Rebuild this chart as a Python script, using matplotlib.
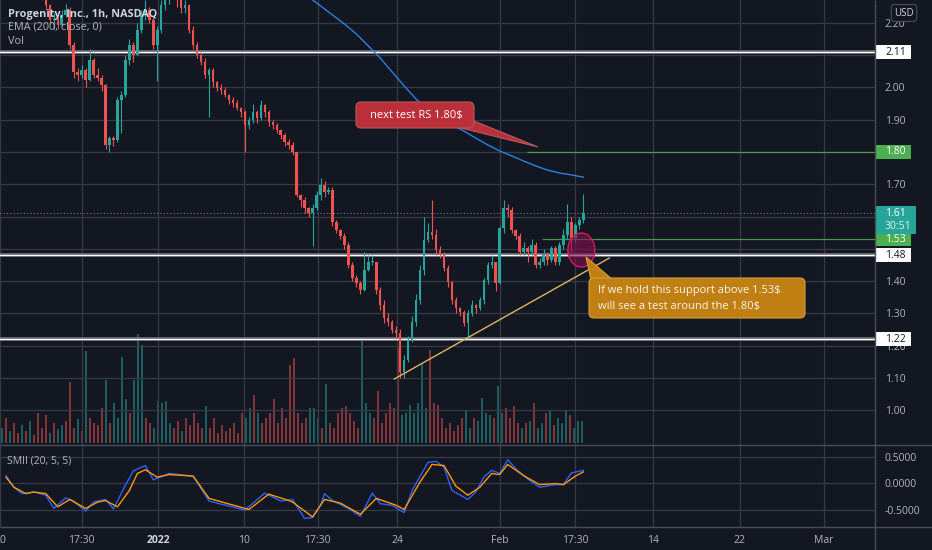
import numpy as np
import matplotlib
matplotlib.use('Agg')
import matplotlib.pyplot as plt
import matplotlib.patches as patches
import matplotlib.transforms as mtransforms
from matplotlib.ticker import FormatStrFormatter

plt.rcParams['font.family'] = ['Open Sans', 'DejaVu Sans']

W, H = 932, 550
BG = '#131722'
GRID = '#363a45'
SEP = '#4a4e59'
TXT = '#b2b5be'
UP = '#26a69a'
DOWN = '#ef5350'

# ---- data (1h candles) ----
first_open = 2.35
closes = [2.36, 2.34, 2.38, 2.35, 2.33, 2.36, 2.32, 2.34, 2.31, 2.30,
          2.256, 2.209, 2.209, 2.194, 2.225, 2.240, 2.132, 2.048, 2.039, 2.054,
          2.023, 2.085, 2.039, 2.030, 2.008, 1.822, 1.843, 1.837, 1.961, 1.977,
          2.085, 2.132, 2.101, 2.178, 2.225, 2.240, 2.209, 2.132, 2.178, 2.256,
          2.271, 2.29, 2.30, 2.28, 2.246, 2.256, 2.178, 2.132, 2.101, 2.079,
          2.039, 2.054, 2.017, 1.998, 1.992, 1.977, 1.961, 1.952, 1.936, 1.924,
          1.884, 1.899, 1.924, 1.905, 1.946, 1.924, 1.893, 1.884, 1.868, 1.853,
          1.831, 1.822, 1.800, 1.667, 1.651, 1.626, 1.611, 1.626, 1.667, 1.698,
          1.676, 1.682, 1.583, 1.558, 1.540, 1.512, 1.450, 1.409, 1.394, 1.372,
          1.434, 1.459, 1.459, 1.372, 1.326, 1.285, 1.273, 1.248, 1.239, 1.118,
          1.155, 1.217, 1.273, 1.341, 1.434, 1.527, 1.552, 1.543, 1.496, 1.481,
          1.440, 1.397, 1.341, 1.316, 1.304, 1.270, 1.300, 1.326, 1.316, 1.341,
          1.403, 1.450, 1.459, 1.394, 1.564, 1.626, 1.620, 1.558, 1.540, 1.490,
          1.502, 1.490, 1.512, 1.450, 1.459, 1.481, 1.465, 1.502, 1.459, 1.512,
          1.543, 1.583, 1.533, 1.574, 1.589, 1.610]
highs = [2.38, 2.37, 2.40, 2.39, 2.36, 2.37, 2.37, 2.35, 2.35, 2.32,
         2.31, 2.26, 2.23, 2.22, 2.24, 2.26, 2.25, 2.14, 2.06, 2.07,
         2.06, 2.12, 2.09, 2.06, 2.04, 2.01, 1.85, 1.85, 1.97, 1.99,
         2.10, 2.15, 2.14, 2.20, 2.24, 2.27, 2.25, 2.22, 2.19, 2.27,
         2.29, 2.31, 2.32, 2.31, 2.29, 2.27, 2.26, 2.19, 2.14, 2.11,
         2.09, 2.06, 2.06, 2.02, 2.01, 2.00, 1.98, 1.97, 1.96, 1.94,
         1.93, 1.91, 1.95, 1.93, 1.96, 1.95, 1.93, 1.90, 1.89, 1.87,
         1.86, 1.84, 1.83, 1.80, 1.67, 1.66, 1.63, 1.64, 1.68, 1.72,
         1.71, 1.69, 1.69, 1.59, 1.56, 1.55, 1.52, 1.46, 1.42, 1.40,
         1.49, 1.48, 1.48, 1.46, 1.38, 1.34, 1.30, 1.28, 1.26, 1.25,
         1.17, 1.23, 1.29, 1.36, 1.45, 1.60, 1.58, 1.65, 1.56, 1.51,
         1.49, 1.45, 1.40, 1.35, 1.32, 1.31, 1.31, 1.34, 1.33, 1.35,
         1.41, 1.46, 1.48, 1.46, 1.57, 1.65, 1.64, 1.63, 1.56, 1.55,
         1.52, 1.51, 1.53, 1.52, 1.47, 1.50, 1.49, 1.51, 1.51, 1.52,
         1.56, 1.64, 1.60, 1.58, 1.60, 1.67]
lows = [2.34, 2.33, 2.33, 2.34, 2.32, 2.32, 2.31, 2.31, 2.30, 2.28,
        2.24, 2.20, 2.18, 2.18, 2.19, 2.22, 2.12, 2.03, 2.02, 2.03,
        2.00, 2.02, 2.03, 2.02, 1.99, 1.81, 1.80, 1.82, 1.83, 1.86,
        1.97, 2.07, 2.08, 2.10, 2.17, 2.21, 2.20, 2.12, 2.02, 2.17,
        2.24, 2.26, 2.28, 2.25, 2.23, 2.23, 2.17, 2.12, 2.09, 2.07,
        2.03, 1.91, 2.00, 1.99, 1.98, 1.97, 1.95, 1.94, 1.93, 1.91,
        1.80, 1.87, 1.89, 1.89, 1.90, 1.91, 1.88, 1.87, 1.86, 1.84,
        1.82, 1.81, 1.79, 1.66, 1.63, 1.61, 1.60, 1.51, 1.62, 1.65,
        1.66, 1.67, 1.57, 1.55, 1.53, 1.50, 1.44, 1.40, 1.38, 1.36,
        1.37, 1.43, 1.45, 1.36, 1.31, 1.27, 1.26, 1.24, 1.22, 1.10,
        1.10, 1.15, 1.21, 1.26, 1.33, 1.42, 1.52, 1.53, 1.48, 1.47,
        1.43, 1.38, 1.33, 1.30, 1.29, 1.26, 1.22, 1.29, 1.30, 1.31,
        1.33, 1.39, 1.44, 1.37, 1.39, 1.55, 1.60, 1.55, 1.53, 1.48,
        1.48, 1.46, 1.48, 1.44, 1.44, 1.45, 1.45, 1.46, 1.45, 1.45,
        1.50, 1.53, 1.49, 1.52, 1.56, 1.58]
volume_k = [15, 25, 12, 20, 10, 18, 12, 22, 8, 30,
            15, 28, 10, 20, 14, 18, 22, 61, 15, 24,
            12, 92, 25, 20, 18, 35, 63, 20, 40, 25,
            86, 44, 30, 63, 109, 98, 25, 20, 15, 42,
            40, 42, 20, 15, 22, 12, 25, 18, 30, 20,
            15, 37, 15, 25, 10, 18, 12, 15, 20, 10,
            30, 25, 35, 48, 30, 20, 25, 30, 44, 20,
            35, 25, 78, 85, 30, 20, 25, 35, 35, 25,
            15, 59, 20, 15, 30, 35, 37, 30, 22, 15,
            104, 40, 30, 25, 52, 20, 30, 40, 35, 95,
            28, 30, 38, 30, 40, 80, 35, 93, 40, 38,
            25, 15, 20, 12, 18, 25, 33, 15, 25, 22,
            45, 30, 28, 25, 57, 30, 35, 25, 37, 20,
            15, 20, 22, 40, 15, 20, 30, 33, 18, 25,
            20, 33, 28, 15, 22, 22]

ema_bars = [70, 73, 76, 79, 82, 85, 88, 91, 94, 97, 100, 103, 106,
            109, 112, 115, 118, 121, 124, 127, 130, 133, 136, 139, 142, 145]
ema_vals = [2.336, 2.308, 2.281, 2.253, 2.225, 2.197, 2.166, 2.129, 2.091,
            2.048, 2.005, 1.964, 1.933, 1.905, 1.884, 1.865, 1.843, 1.822,
            1.803, 1.788, 1.772, 1.757, 1.744, 1.735, 1.729, 1.722]

smi_bars = [0, 2, 4, 7, 10, 12, 15, 17, 20, 22, 25, 27, 30, 32, 35, 37, 41, 47,
            51, 60, 65, 69, 72, 75, 77, 79, 80, 82, 86, 89, 92, 94, 97, 100,
            102, 106, 108, 110, 112, 116, 118, 120, 122, 124, 126, 128, 131,
            134, 138, 140, 142, 145]
smi_vals = [0.14, -0.08, -0.20, -0.17, -0.23, -0.48, -0.28, -0.34, -0.53, -0.36,
            -0.31, -0.49, -0.04, 0.23, 0.33, 0.06, 0.18, 0.13, -0.34, -0.51,
            -0.19, -0.34, -0.31, -0.67, -0.65, -0.42, -0.20, -0.33, -0.48, -0.63,
            -0.19, -0.39, -0.42, -0.56, -0.14, 0.39, 0.41, 0.30, -0.14, -0.31,
            -0.17, 0.11, 0.24, 0.18, 0.44, 0.27, 0.08, -0.08, -0.03, -0.03,
            0.19, 0.24]
sig_bars = [0, 2, 5, 7, 10, 13, 16, 20, 23, 25, 28, 31, 33, 35, 38, 41, 47, 51,
            61, 66, 71, 72, 77, 80, 84, 89, 93, 98, 100, 104, 107, 110, 113,
            116, 119, 122, 124, 126, 130, 134, 138, 140, 143, 145]
sig_vals = [0.11, -0.08, -0.20, -0.17, -0.20, -0.45, -0.31, -0.48, -0.36, -0.33,
            -0.45, -0.14, 0.18, 0.25, 0.11, 0.16, 0.13, -0.29, -0.50, -0.21,
            -0.33, -0.36, -0.64, -0.31, -0.38, -0.59, -0.29, -0.42, -0.50, 0.02,
            0.35, 0.33, -0.06, -0.23, -0.08, 0.18, 0.16, 0.35, 0.14, -0.03,
            -0.01, -0.03, 0.13, 0.21]

price_ticks = [1.00, 1.10, 1.20, 1.30, 1.40, 1.50, 1.60, 1.70, 1.80, 1.90,
               2.00, 2.10, 2.20]
# labels hidden by the price tags on the axis
hidden_ticks = [1.50, 1.60, 1.80, 2.10]
smi_ticks = [0.5, 0.0, -0.5]
time_labels = ['20', '17:30', '2022', '10', '17:30', '24', 'Feb', '17:30',
               '14', '22', 'Mar']
time_pos = [-1.5, 19, 38.25, 59.75, 78.25, 98.25, 124, 143, 162.5, 184.25, 205.5]

# drawing tools
white_levels = [2.11, 1.48, 1.22]
green_levels = [1.80, 1.53]
green_start = [130.75, 134.5]
trend_bars = [97.5, 151.5]
trend_prices = [1.096, 1.471]
circle_bar, circle_price = 144.5, 1.496
tags = [(2.11, 'white', '#131722'), (1.80, '#4caf50', 'white'),
        (1.53, '#4caf50', 'white'), (1.48, 'white', '#131722'),
        (1.22, 'white', '#131722')]

# ---- figure ----
fig = plt.figure(figsize=(W / 100, H / 100), dpi=100, facecolor=BG)


def rect(x0, y0, x1, y1):
    return [x0 / W, 1 - y1 / H, (x1 - x0) / W, (y1 - y0) / H]


vol_ax = fig.add_axes(rect(0, 0, 875, 445))
ax = fig.add_axes(rect(0, 0, 875, 445))
smi_ax = fig.add_axes(rect(0, 445, 875, 527))
ov = fig.add_axes([0, 0, 1, 1])

XLIM = (-0.5, 218.25)
YLIM = (0.8915, 2.2713)
ppx = (YLIM[1] - YLIM[0]) / 445.0  # price per pixel

for a in (vol_ax, ax, smi_ax):
    a.set_xlim(*XLIM)
    for s in a.spines.values():
        s.set_visible(False)

vol_ax.set_facecolor(BG)
ax.set_facecolor('none')
smi_ax.set_facecolor(BG)

closes = np.array(closes)
opens = np.r_[first_open, closes[:-1]]
x = np.arange(len(closes))
up = closes >= opens
colors = np.where(up, UP, DOWN)

# volume
vol_ax.bar(x, volume_k, width=0.55, color=colors, alpha=0.5, lw=0)
vol_ax.set_ylim(-2, 443)
vol_ax.set_xticks([])
vol_ax.set_yticks([])

# price pane
ax.set_ylim(*YLIM)
ax.yaxis.tick_right()
ax.set_yticks(price_ticks)
ax.set_yticklabels(['' if t in hidden_ticks else '%.2f' % t for t in price_ticks])
ax.tick_params(axis='y', length=0, pad=7, labelsize=7.5, labelcolor=TXT)
ax.set_xticks(time_pos)
ax.tick_params(axis='x', length=0, labelbottom=False)
ax.grid(True, color=GRID, lw=0.9)
ax.set_axisbelow(True)

ax.vlines(x, lows, highs, colors=colors, lw=0.8, zorder=3)
body_lo = np.minimum(opens, closes)
body_h = np.maximum(np.abs(closes - opens), 0.003)
ax.bar(x, body_h, bottom=body_lo, width=0.62, color=colors, lw=0, zorder=4)

ax.plot(ema_bars, ema_vals, color='#2d7fe0', lw=1.0, zorder=5)

for lv in white_levels:
    ax.axhline(lv, color='#70737e', lw=2.6, zorder=2)
    ax.axhline(lv + 0.5 * ppx, color='white', lw=0.9, zorder=2)
for lv, st in zip(green_levels, green_start):
    ax.hlines(lv, st, XLIM[1], color='#4caf50', lw=0.9, alpha=0.85, zorder=2)
ax.axhline(closes[-1], color='#787b86', lw=0.8, ls=(0, (1, 2)), zorder=2)

ax.plot(trend_bars, trend_prices, color='#dcb65e', lw=1.0, zorder=5)
ax.add_patch(patches.Ellipse((circle_bar, circle_price), 6.75, 34 * ppx,
                             fc=(0.53, 0.05, 0.31, 0.6), ec='#d81b60', lw=1, zorder=6))

# price tags on the axis
trans = mtransforms.blended_transform_factory(ax.transAxes, ax.transData)
tw = 36 / 875.0
th = 14 * ppx
for lv, fc, tc in tags:
    ax.add_patch(patches.Rectangle((1.0, lv - th / 2), tw, th, transform=trans,
                                   fc=fc, ec='none', clip_on=False, zorder=8))
    ax.text(1.0 + 10 / 875.0, lv, '%.2f' % lv, transform=trans, ha='left',
            va='center', fontsize=7.5, color=tc, clip_on=False, zorder=9)
last = closes[-1]
ax.add_patch(patches.Rectangle((1.0, last - 7 * ppx - 14 * ppx), 41 / 875.0, 28 * ppx,
                               transform=trans, fc=UP, ec='none', clip_on=False, zorder=8))
ax.text(1.0 + 10 / 875.0, last, '%.2f' % last, transform=trans, ha='left',
        va='center', fontsize=7.5, color='white', clip_on=False, zorder=9)
ax.text(1.0 + 10 / 875.0, last - 13 * ppx, '30:51', transform=trans, ha='left',
        va='center', fontsize=7.5, color='#e0f2f1', clip_on=False, zorder=9)

# SMII pane
smi_ax.set_ylim(-0.830, 0.717)
smi_ax.plot(smi_bars, smi_vals, color='#2962ff', lw=1.0)
smi_ax.plot(sig_bars, sig_vals, color='#ff9800', lw=1.0)
smi_ax.yaxis.tick_right()
smi_ax.set_yticks(smi_ticks)
smi_ax.yaxis.set_major_formatter(FormatStrFormatter('%.4f'))
smi_ax.tick_params(axis='y', length=0, pad=7, labelsize=7.5, labelcolor=TXT)
smi_ax.set_xticks(time_pos)
smi_ax.tick_params(axis='x', length=0, labelbottom=False)
smi_ax.grid(True, color=GRID, lw=0.9)
smi_ax.set_axisbelow(True)

ttrans = mtransforms.blended_transform_factory(smi_ax.transData, smi_ax.transAxes)
for lbl, pos in zip(time_labels, time_pos):
    bold = lbl == '2022'
    smi_ax.text(pos, -0.16, lbl, transform=ttrans, ha='center', va='center',
                fontsize=7.5, color='#d1d4dc' if bold else TXT,
                fontweight='bold' if bold else 'normal', clip_on=False)

# overlay: separators, legends, callouts
ov.set_xlim(0, W)
ov.set_ylim(H, 0)
ov.axis('off')
ov.patch.set_visible(False)
ov.hlines([445, 527], 0, W, color=SEP, lw=1)
ov.vlines(875, 0, H, color=SEP, lw=1)

ov.text(8, 14, 'Progenity, Inc., 1h, NASDAQ', fontsize=7.8, fontweight='bold',
        color='#d1d4dc', va='center')
ov.text(8, 27, 'EMA (200, close, 0)', fontsize=7.8, color=TXT, va='center')
ov.text(8, 41, 'Vol', fontsize=7.8, color=TXT, va='center')
ov.text(7, 461, 'SMII (20, 5, 5)', fontsize=7.5, color=TXT, va='center')
ov.text(904, 13, 'USD', fontsize=7, color='#d1d4dc', ha='center', va='center',
        bbox=dict(boxstyle='round,pad=0.3', fc=BG, ec=SEP, lw=0.8))

# red callout
red = '#bb2f3b'
ov.add_patch(patches.Polygon([(457, 127), (474, 121), (538, 147)], closed=True,
                             fc=red, ec='#b65a5f', lw=0.8))
ov.add_patch(patches.FancyBboxPatch((356, 102), 118, 26,
                                    boxstyle='round,pad=0,rounding_size=5',
                                    fc=red, ec='#b65a5f', lw=0.8))
ov.text(370, 115.5, 'next test RS 1.80$', fontsize=8, color='white',
        va='center', parse_math=False)

# orange callout
org = '#bf7f12'
ov.add_patch(patches.Polygon([(591, 280), (613, 280), (586, 257)], closed=True,
                             fc=org, ec='#d4a03c', lw=0.8))
ov.add_patch(patches.FancyBboxPatch((589, 278), 216, 40,
                                    boxstyle='round,pad=0,rounding_size=5',
                                    fc=org, ec='#d4a03c', lw=0.8))
ov.text(598, 291, 'If we hold this support above 1.53$', fontsize=8,
        color='#fdf6e8', va='center', parse_math=False)
ov.text(598, 306, 'will see a test around the 1.80$', fontsize=8,
        color='#fdf6e8', va='center', parse_math=False)

fig.savefig('out.png', dpi=100, facecolor=BG)
